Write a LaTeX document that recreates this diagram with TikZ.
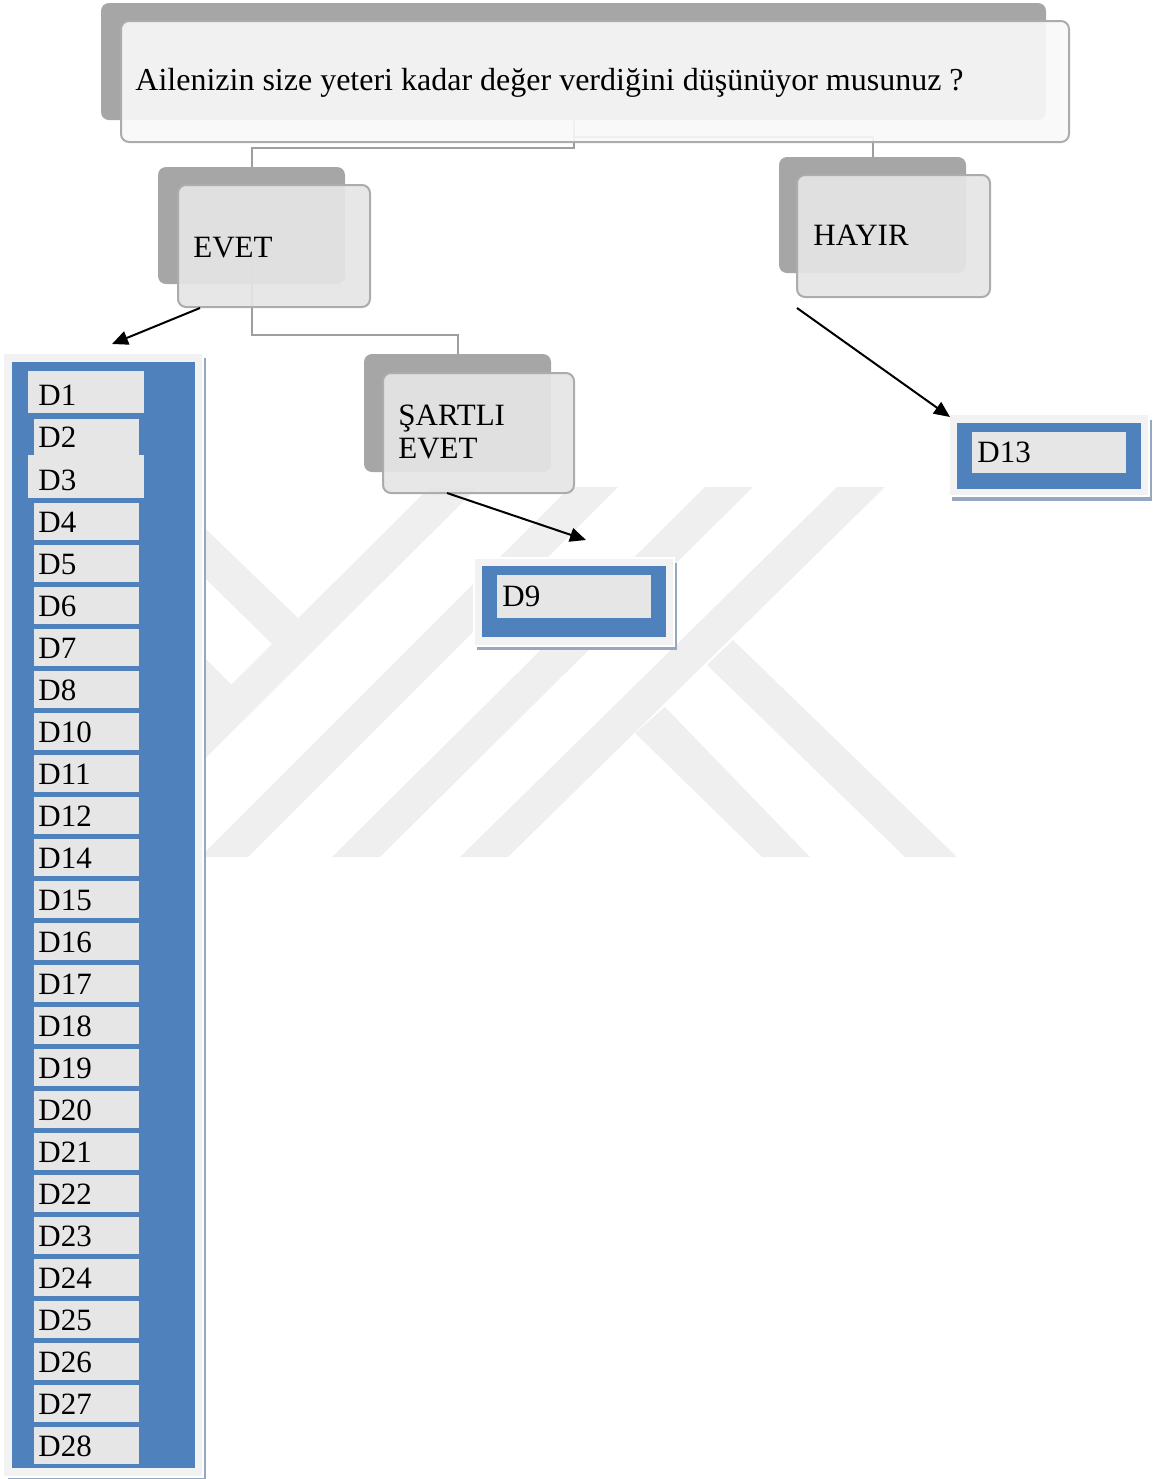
\documentclass[tikz,border=0pt]{standalone}
\usepackage{fontspec}
\setmainfont{Liberation Serif}
\usetikzlibrary{arrows.meta,fit}

\definecolor{backgray}{RGB}{166,166,166}
\definecolor{frontfill}{RGB}{229,229,229}
\definecolor{topfill}{RGB}{248,248,248}
\definecolor{edgegray}{RGB}{172,172,172}
\definecolor{linkgray}{RGB}{158,158,158}
\definecolor{officeblue}{RGB}{79,129,189}
\definecolor{cellgray}{RGB}{230,230,230}
\definecolor{framegray}{RGB}{242,242,242}
\definecolor{shadowblue}{RGB}{150,167,192}
\definecolor{wmgray}{RGB}{239,239,239}

\tikzset{
  backbox/.style={fill=backgray, rounded corners=4pt, inner sep=0pt},
  frontbox/.style={fill=frontfill, fill opacity=0.93, draw=edgegray, line width=1pt, rounded corners=4pt, inner sep=0pt},
  topbox/.style={fill=topfill, fill opacity=0.92, draw=edgegray, line width=1pt, rounded corners=4pt, inner sep=0pt},
  link/.style={draw=linkgray, line width=1pt},
  pointer/.style={-{Triangle[length=8pt,width=7pt]}, line width=1pt, black},
  lbl/.style={anchor=base west, inner sep=0pt, text=black, font=\fontsize{15.5}{18}\selectfont},
  cell/.style={fill=cellgray, inner sep=0pt},
  bluepanel/.style={fill=officeblue, inner sep=0pt},
  outerframe/.style={fill=framegray, draw=white, line width=0.6pt, inner sep=0pt},
  dropshadow/.style={fill=shadowblue, inner sep=0pt},
}

\begin{document}
\begin{tikzpicture}[x=0.5pt,y=-0.5pt]
\useasboundingbox (0,0) rectangle (1157,1479);

% faint background emblem
\begin{scope}
  \clip (205,487) rectangle (1000,857);
  \fill[wmgray] (430,487) -- (478,487) -- (106,857) -- (58,857) -- cycle;
  \fill[wmgray] (570,487) -- (618,487) -- (248,857) -- (200,857) -- cycle;
  \fill[wmgray] (705,487) -- (753,487) -- (380,857) -- (332,857) -- cycle;
  \fill[wmgray] (837,487) -- (885,487) -- (508,857) -- (460,857) -- cycle;
  \fill[wmgray] (150,475) -- (300,620) -- (273,645) -- (150,524) -- cycle;
  \fill[wmgray] (150,603) -- (233,686) -- (207,712) -- (150,655) -- cycle;
  \fill[wmgray] (733,640) -- (957,857) -- (905,857) -- (707,665) -- cycle;
  \fill[wmgray] (665,707) -- (810,857) -- (762,857) -- (635,733) -- cycle;
\end{scope}

% back plates of the hierarchy
\node[backbox, fit={(101,3) (1046,120)}] (qback) {};
\node[backbox, fit={(158,167) (345,284)}] (evetback) {};
\node[backbox, fit={(364,354) (551,472)}] (sartliback) {};
\node[backbox, fit={(779,157) (966,273)}] (hayirback) {};

% elbow connectors
\draw[link] (qback.center) -- (qback.center |- 0,148) -| (evetback.north);
\draw[link] (qback.center |- 0,137) -| (hayirback.north);
\draw[link] (evetback.center) -- (evetback.center |- 0,335) -| (sartliback.north);

% front plates
\node[topbox, fit={(121,21) (1069,142)}] (qfront) {};
\node[frontbox, fit={(178,185) (370,307)}] (evetfront) {};
\node[frontbox, fit={(383,373) (574,493)}] (sartlifront) {};
\node[frontbox, fit={(797,175) (990,297)}] (hayirfront) {};

% labels of the hierarchy
\node[lbl, font=\fontsize{16}{18}\selectfont] (qtext) at (135,90) {Ailenizin size yeteri kadar değer verdiğini düşünüyor musunuz ?};
\node[lbl] (evettext) at (193,257) {EVET};
\node[lbl] (sartlitext) at (398,425) {ŞARTLI};
\node[lbl] (sartlitext2) at (398,458) {EVET};
\node[lbl] (hayirtext) at (813,245) {HAYIR};

% list of D items under EVET
\node[dropshadow, fit={(8,358) (206,1481)}] (listshadow) {};
\node[outerframe, fit={(3,353) (203,1477)}] (listframe) {};
\node[bluepanel, fit={(12,362) (195,1468)}] (listpanel) {};
\node[cell, fit={(28,371) (144,413)}] (cD1) {};
\node[lbl] at (38,405) {D1};
\node[cell, fit={(34,419) (139,455)}] (cD2) {};
\node[lbl] at (38,447) {D2};
\node[cell, fit={(28,455) (144,498)}] (cD3) {};
\node[lbl] at (38,490) {D3};
\foreach \lab [count=\i from 0] in {D4,D5,D6,D7,D8,D10,D11,D12,D14,D15,D16,D17,D18,D19,D20,D21,D22,D23,D24,D25,D26,D27,D28} {
  \node[cell, anchor=north west, minimum width=52.5pt, minimum height=18.5pt] (c\lab) at (34,{503+42*\i}) {};
  \node[lbl] at (38,{532+42*\i}) {\lab};
}

% D9 box
\node[dropshadow, fit={(477,563) (677,650)}] (d9shadow) {};
\node[outerframe, fit={(474,558) (674,646)}] (d9frame) {};
\node[bluepanel, fit={(482,566) (666,637)}] (d9panel) {};
\node[cell, fit={(497,575) (651,618)}] (cD9) {};
\node[lbl] at (502,606) {D9};

% D13 box
\node[dropshadow, fit={(952,420) (1152,501)}] (d13shadow) {};
\node[outerframe, fit={(949,414) (1149,496)}] (d13frame) {};
\node[bluepanel, fit={(957,423) (1141,489)}] (d13panel) {};
\node[cell, fit={(972,432) (1126,473)}] (cD13) {};
\node[lbl] at (977,462) {D13};

% pointers to the result boxes
\coordinate (p1s) at (200,308);
\coordinate (p1e) at (112,344);
\coordinate (p2s) at (447,493);
\coordinate (p2e) at (586,540);
\coordinate (p3s) at (797,308);
\coordinate (p3e) at (950,417);
\draw[pointer] (p1s) -- (p1e);
\draw[pointer] (p2s) -- (p2e);
\draw[pointer] (p3s) -- (p3e);
\end{tikzpicture}
\end{document}
